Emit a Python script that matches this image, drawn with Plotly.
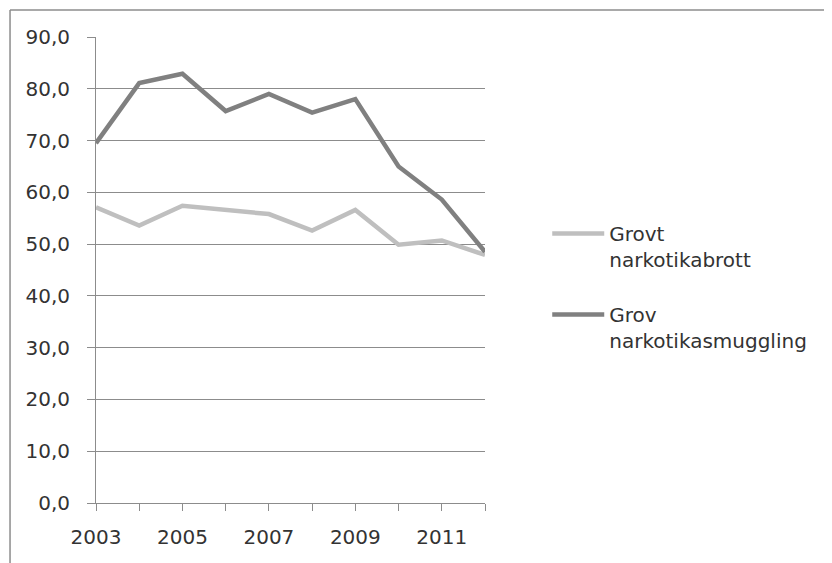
import plotly.graph_objects as go

years = [2003, 2004, 2005, 2006, 2007, 2008, 2009, 2010, 2011, 2012]
grovt_narkotikabrott = [57.1, 53.6, 57.4, 56.6, 55.8, 52.6, 56.6, 49.9, 50.7, 47.9]
grov_narkotikasmuggling = [69.5, 81.1, 82.9, 75.7, 79.0, 75.4, 78.0, 65.0, 58.6, 48.5]
series_names = ["Grovt<br>narkotikabrott", "Grov<br>narkotikasmuggling"]
series_colors = ["#bfbfbf", "#808080"]
x_ticktext = [str(y) if (y - 2003) % 2 == 0 else "" for y in years]

font_family = "DejaVu Sans"
text_color = "#333333"
grid_color = "#8c8c8c"

fig = go.Figure()
for i, (name, vals, col) in enumerate(zip(series_names, [grovt_narkotikabrott, grov_narkotikasmuggling], series_colors)):
    fig.add_trace(go.Scatter(x=years, y=vals, name=name, mode="lines", legendgroup="g%d" % i,
                             line=dict(color=col, width=4.5)))

fig.update_layout(
    width=832, height=563,
    margin=dict(l=88, r=355, t=29, b=68),
    paper_bgcolor="white", plot_bgcolor="white",
    separators=", ",
    font=dict(family=font_family, size=20, color=text_color),
    showlegend=True,
    legend=dict(x=1.16, y=0.62, xanchor="left", yanchor="top",
                font=dict(family=font_family, size=20, color=text_color),
                valign="top", traceorder="grouped", tracegroupgap=26, itemwidth=52,
                bgcolor="rgba(0,0,0,0)"),
    xaxis=dict(range=[2003, 2012], tickmode="array", tickvals=years, ticktext=x_ticktext,
               showgrid=False, zeroline=False, showline=True, linecolor=grid_color, linewidth=1,
               ticks="outside", ticklen=7, tickcolor=grid_color, ticklabelstandoff=9,
               tickfont=dict(family=font_family, size=20, color=text_color)),
    yaxis=dict(range=[0, 90], dtick=10, tick0=0, tickformat=".1f",
               showgrid=True, gridcolor=grid_color, gridwidth=1,
               zeroline=False, showline=True, linecolor=grid_color, linewidth=1,
               ticks="outside", ticklen=8, tickcolor=grid_color, ticklabelstandoff=13,
               tickfont=dict(family=font_family, size=20, color=text_color)),
)

# outer chart frame (top and left edges visible in reference)
fig.add_shape(type="line", xref="paper", yref="paper", x0=-0.221, x1=2.0, y0=1.058, y1=1.058,
              line=dict(color="#8c8c8c", width=1.5))
fig.add_shape(type="line", xref="paper", yref="paper", x0=-0.221, x1=-0.221, y0=1.058, y1=-1.0,
              line=dict(color="#8c8c8c", width=1.5))

fig.write_html("out.html")
